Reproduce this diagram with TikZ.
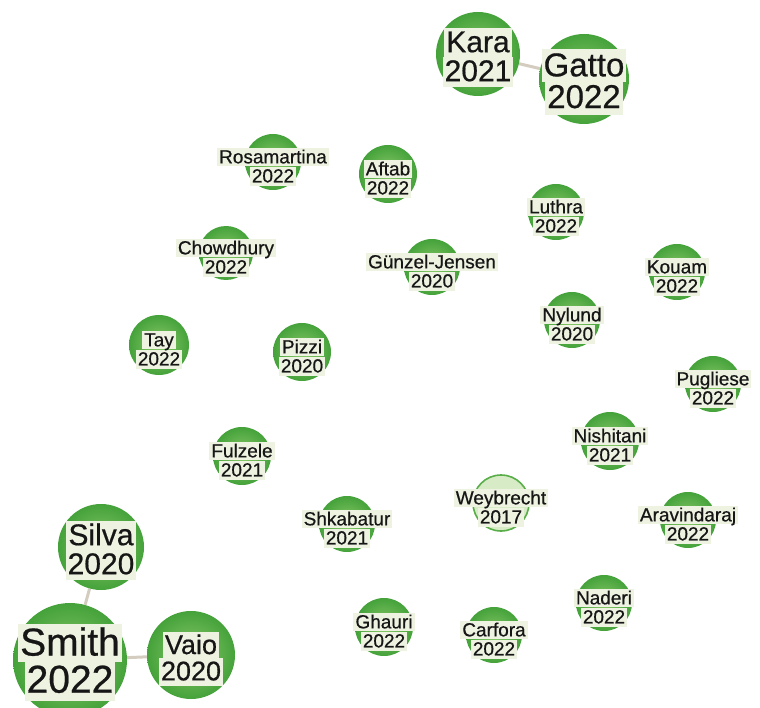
\documentclass[tikz,border=0pt]{standalone}
\usepackage{fontspec}
\setmainfont{Liberation Sans}
\newfontfamily\lblfont[FakeBold=0.6]{Liberation Sans}
\usetikzlibrary{backgrounds}
\definecolor{rimgreen}{HTML}{45A23A}
\definecolor{coregreen}{HTML}{8CCA6C}
\definecolor{lblbgc}{HTML}{EEF3E1}
\definecolor{edgec}{HTML}{D4CCBF}
\definecolor{txtc}{HTML}{161616}
\definecolor{palefill}{HTML}{D6EBC6}
\definecolor{palerim}{HTML}{5AAE4A}
\tikzset{
  paper/.style={circle, inner sep=0pt, draw=none, shading=radial, inner color=coregreen, outer color=rimgreen},
  palepaper/.style={shading=radial, inner color=palefill, outer color=palefill, draw=palerim, line width=1.6pt},
  lblbg/.style={anchor=base, fill=lblbgc, inner xsep=2pt, inner ysep=0pt},
  lbltxt/.style={anchor=base, text=txtc, inner xsep=2pt, inner ysep=0pt},
  link/.style={draw=edgec, line width=3pt}
}
% name, x, y, r, fontsize, line1, line2, extra circle style
\newcommand{\papernode}[8]{%
  \node[paper, minimum size=#4*2pt, #8] (#1) at (#2,#3) {};
  \coordinate (#1-la) at (#2,#3-0.117*#5+0.17*40-0.17*#5);
  \coordinate (#1-lb) at ([yshift=-0.95*#5pt-2pt+0.05*#5pt]#1-la);
  \node[lblbg, text height=0.82*#5pt, text depth=0.16*#5pt, font=\lblfont\fontsize{#5}{#5}\selectfont] (#1-bga) at (#1-la) {\phantom{#6}};
  \node[lblbg, text height=0.82*#5pt, text depth=0.2*#5pt, font=\lblfont\fontsize{#5}{#5}\selectfont] (#1-bgb) at (#1-lb) {\phantom{#7}};
  \node[lbltxt, text height=0.82*#5pt, text depth=0.16*#5pt, font=\lblfont\fontsize{#5}{#5}\selectfont] (#1-a) at (#1-la) {#6};
  \node[lbltxt, text height=0.82*#5pt, text depth=0.2*#5pt, font=\lblfont\fontsize{#5}{#5}\selectfont] (#1-b) at (#1-lb) {#7};
}
\begin{document}
\begin{tikzpicture}[x=1pt,y=-1pt]
\useasboundingbox (0,0) rectangle (760,708);
\papernode{kara}{478}{54}{42}{30}{Kara}{2021}{}
\papernode{gatto}{584}{79}{45}{33}{Gatto}{2022}{}
\papernode{rosa}{273}{162}{28}{19}{Rosamartina}{2022}{}
\papernode{aftab}{388}{174}{29}{19}{Aftab}{2022}{}
\papernode{chow}{226}{253}{27}{19}{Chowdhury}{2022}{}
\papernode{gunz}{432}{267}{28}{19}{Günzel-Jensen}{2020}{}
\papernode{luthra}{556}{212}{28}{19}{Luthra}{2022}{}
\papernode{kouam}{677}{272}{28}{19}{Kouam}{2022}{}
\papernode{nylund}{572}{320}{28}{19}{Nylund}{2020}{}
\papernode{tay}{159}{345}{30}{19}{Tay}{2022}{}
\papernode{pizzi}{302}{352}{29}{19}{Pizzi}{2020}{}
\papernode{pugl}{713}{384}{28}{19}{Pugliese}{2022}{}
\papernode{fulz}{242}{456}{29}{19}{Fulzele}{2021}{}
\papernode{nish}{610}{441}{29}{19}{Nishitani}{2021}{}
\papernode{weyb}{501}{503}{28}{19}{Weybrecht}{2017}{palepaper}
\papernode{shka}{347}{524}{28}{19}{Shkabatur}{2021}{}
\papernode{arav}{688}{520}{28}{19}{Aravindaraj}{2022}{}
\papernode{naderi}{604}{603}{28}{19}{Naderi}{2022}{}
\papernode{ghauri}{384}{627}{29}{19}{Ghauri}{2022}{}
\papernode{carf}{494}{635}{28}{19}{Carfora}{2022}{}
\papernode{silva}{101}{547}{43}{30}{Silva}{2020}{}
\papernode{smith}{70}{660}{57}{39}{Smith}{2022}{}
\papernode{vaio}{191}{655}{44}{27}{Vaio}{2020}{}
\begin{scope}[on background layer]
  \draw[link] (kara) -- (gatto);
  \draw[link] (silva) -- (smith);
  \draw[link] (smith) -- (vaio);
\end{scope}
\end{tikzpicture}
\end{document}
